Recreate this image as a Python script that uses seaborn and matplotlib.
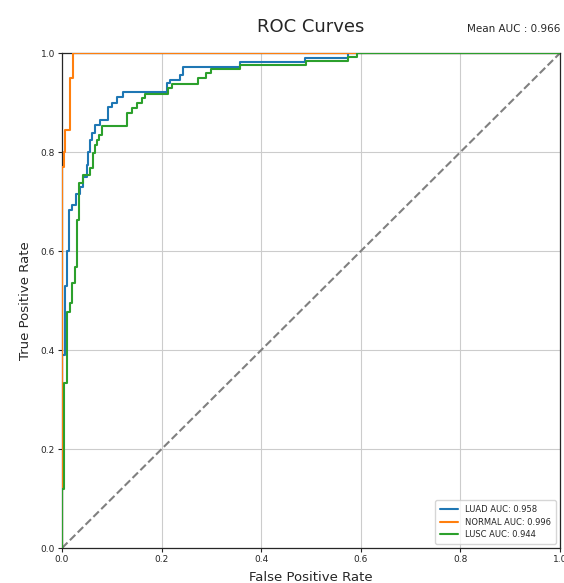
import pandas as pd
import matplotlib
matplotlib.use("Agg")
import matplotlib.pyplot as plt
import seaborn as sns

# ROC step points (tpr level starting at each fpr)
luad_fpr = [0, 0, 0.006, 0.009, 0.013, 0.019, 0.029, 0.036, 0.043, 0.05, 0.053, 0.056,
            0.06, 0.066, 0.076, 0.093, 0.10, 0.11, 0.123, 0.21, 0.217, 0.237, 0.243,
            0.357, 0.488, 0.574, 1.0]
luad_tpr = [0, 0.39, 0.53, 0.60, 0.683, 0.693, 0.715, 0.73, 0.75, 0.774, 0.80, 0.824,
            0.838, 0.855, 0.865, 0.891, 0.90, 0.912, 0.922, 0.939, 0.945, 0.956, 0.972,
            0.982, 0.991, 1.0, 1.0]

normal_fpr = [0, 0, 0.003, 0.006, 0.016, 0.022, 1.0]
normal_tpr = [0, 0.77, 0.80, 0.845, 0.95, 1.0, 1.0]

lusc_fpr = [0, 0, 0.003, 0.009, 0.016, 0.021, 0.026, 0.031, 0.035, 0.043, 0.056, 0.062,
            0.066, 0.071, 0.075, 0.08, 0.13, 0.14, 0.15, 0.16, 0.167, 0.213, 0.22,
            0.273, 0.29, 0.30, 0.357, 0.49, 0.574, 0.592, 1.0]
lusc_tpr = [0, 0.12, 0.333, 0.477, 0.495, 0.536, 0.568, 0.663, 0.737, 0.753, 0.768, 0.798,
            0.814, 0.824, 0.834, 0.853, 0.878, 0.889, 0.899, 0.91, 0.918, 0.929, 0.937,
            0.949, 0.959, 0.967, 0.975, 0.983, 0.992, 1.0, 1.0]

classes = ["LUAD", "NORMAL", "LUSC"]
aucs = [0.958, 0.996, 0.944]
mean_auc = 0.966
colors = ["#1f77b4", "#ff7f0e", "#2ca02c"]

curves = {"LUAD": (luad_fpr, luad_tpr),
          "NORMAL": (normal_fpr, normal_tpr),
          "LUSC": (lusc_fpr, lusc_tpr)}

sns.set_style("whitegrid", {"axes.edgecolor": "0.15", "grid.color": "0.8",
                            "xtick.bottom": True, "ytick.left": True})
plt.rcParams["font.family"] = ["DejaVu Sans"]

fig = plt.figure(figsize=(5.64, 5.83), dpi=100)
ax = fig.add_axes([0.110, 0.060, 0.883, 0.849])

for name, auc, c in zip(classes, aucs, colors):
    fpr, tpr = curves[name]
    df = pd.DataFrame({"fpr": fpr, "tpr": tpr})
    sns.lineplot(data=df, x="fpr", y="tpr", ax=ax, estimator=None, sort=False,
                 drawstyle="steps-post", color=c, linewidth=1.5,
                 label=f"{name} AUC: {auc:.3f}", zorder=3)

ax.plot([0, 1], [0, 1], linestyle="--", color="gray", linewidth=1.5)

ax.set_xlim(0, 1)
ax.set_ylim(0, 1)
ax.set_xticks([0, 0.2, 0.4, 0.6, 0.8, 1.0])
ax.set_yticks([0, 0.2, 0.4, 0.6, 0.8, 1.0])
ax.tick_params(labelsize=6.5, length=3, width=0.8, pad=2)
for s in ax.spines.values():
    s.set_linewidth(0.9)

ax.set_xlabel("False Positive Rate", fontsize=9.5, labelpad=5)
ax.set_ylabel("True Positive Rate", fontsize=9.5, labelpad=6)
ax.set_title("ROC Curves", fontsize=13, pad=15)
ax.set_title(f"Mean AUC : {mean_auc:.3f}", loc="right", fontsize=7.5, pad=15)

ax.legend(loc="lower right", fontsize=6, frameon=True, handlelength=2.2,
          borderpad=0.6, labelspacing=0.4)

fig.savefig("out.png", dpi=100)
